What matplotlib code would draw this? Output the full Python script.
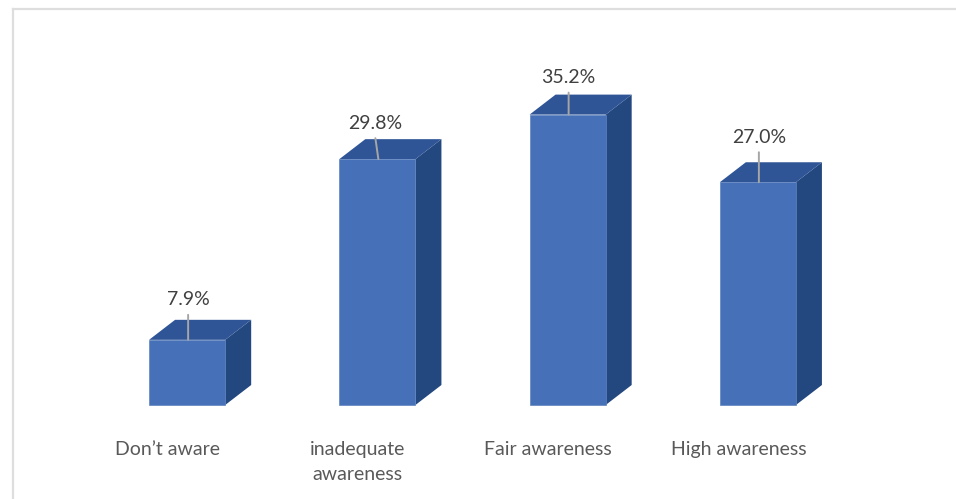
import matplotlib
matplotlib.use('Agg')
import matplotlib.pyplot as plt
from matplotlib.patches import Polygon
from matplotlib.lines import Line2D
from matplotlib.transforms import offset_copy

categories = ["Don\u2019t aware", "inadequate\nawareness", "Fair awareness", "High awareness"]
values = [7.9, 29.8, 35.2, 27.0]
value_labels = ["7.9%", "29.8%", "35.2%", "27.0%"]

W, H = 956, 499
FRONT = '#4670b7'
TOP = '#2f5597'
SIDE = '#23477f'
EDGE = '#5f84c0'

plt.rcParams['font.family'] = ['Lato', 'Open Sans', 'DejaVu Sans']

fig = plt.figure(figsize=(W / 100, H / 100), dpi=100)

# axes placed so category spacing and the zero line land where the original has them
left, right = 92, 853
base, top = 405, 75
ax = fig.add_axes([left / W, 1 - base / H, (right - left) / W, (base - top) / H])
ax.set_xlim(-0.5, 3.5)
ax.set_ylim(0, 40)
ax.axis('off')

bar_w = 0.4
dx = 26 / 190.25
dy = 20 / 8.25

for i, v in enumerate(values):
    x0 = i - bar_w / 2
    x1 = i + bar_w / 2
    ax.add_patch(Polygon([(x1, 0), (x1 + dx, dy), (x1 + dx, v + dy), (x1, v)],
                         fc=SIDE, ec='none', clip_on=False, zorder=2))
    ax.add_patch(Polygon([(x0, v), (x0 + dx, v + dy), (x1 + dx, v + dy), (x1, v)],
                         fc=TOP, ec='none', clip_on=False, zorder=2))
    ax.add_patch(Polygon([(x0, 0), (x1, 0), (x1, v), (x0, v)],
                         fc=FRONT, ec=EDGE, lw=0.5, clip_on=False, zorder=3))

# leader line length and slant differ per bar, in pixels
leader = [(0, 25), (-3, 21), (0, 22), (0, 30)]
px = 0.72
shifted = offset_copy(ax.transData, fig=fig, x=1, y=0, units='dots')
for i, v in enumerate(values):
    lx, ly = leader[i]
    ax.annotate('', xy=(i, v), xycoords=shifted, xytext=(lx * px, ly * px), textcoords='offset points',
                arrowprops=dict(arrowstyle='-', color='#a6a6a6', lw=1.4, shrinkA=0, shrinkB=0),
                annotation_clip=False, zorder=4)
    ax.annotate(value_labels[i], xy=(i, v), xycoords=shifted, xytext=(lx * px, (ly + 15) * px),
                textcoords='offset points', ha='center', va='center',
                fontsize=14, color='#404040', annotation_clip=False, zorder=5)

# category labels sit left of the bar centres
for i, c in enumerate(categories):
    ax.annotate(c, xy=(i, 0), xytext=(-19.5 * px, -36 * px), textcoords='offset points',
                ha='center', va='top', multialignment='center', fontsize=14, color='#595959',
                linespacing=1.55, annotation_clip=False)

# chart frame, cut off by the screenshot at right and bottom
fc = '#dedede'
fig.add_artist(Line2D([12.5 / W, 12.5 / W], [0, 1 - 8.5 / H], color=fc, lw=1.6))
fig.add_artist(Line2D([12.5 / W, 1], [1 - 8.5 / H, 1 - 8.5 / H], color=fc, lw=1.6))

fig.savefig('out.png', dpi=100)
